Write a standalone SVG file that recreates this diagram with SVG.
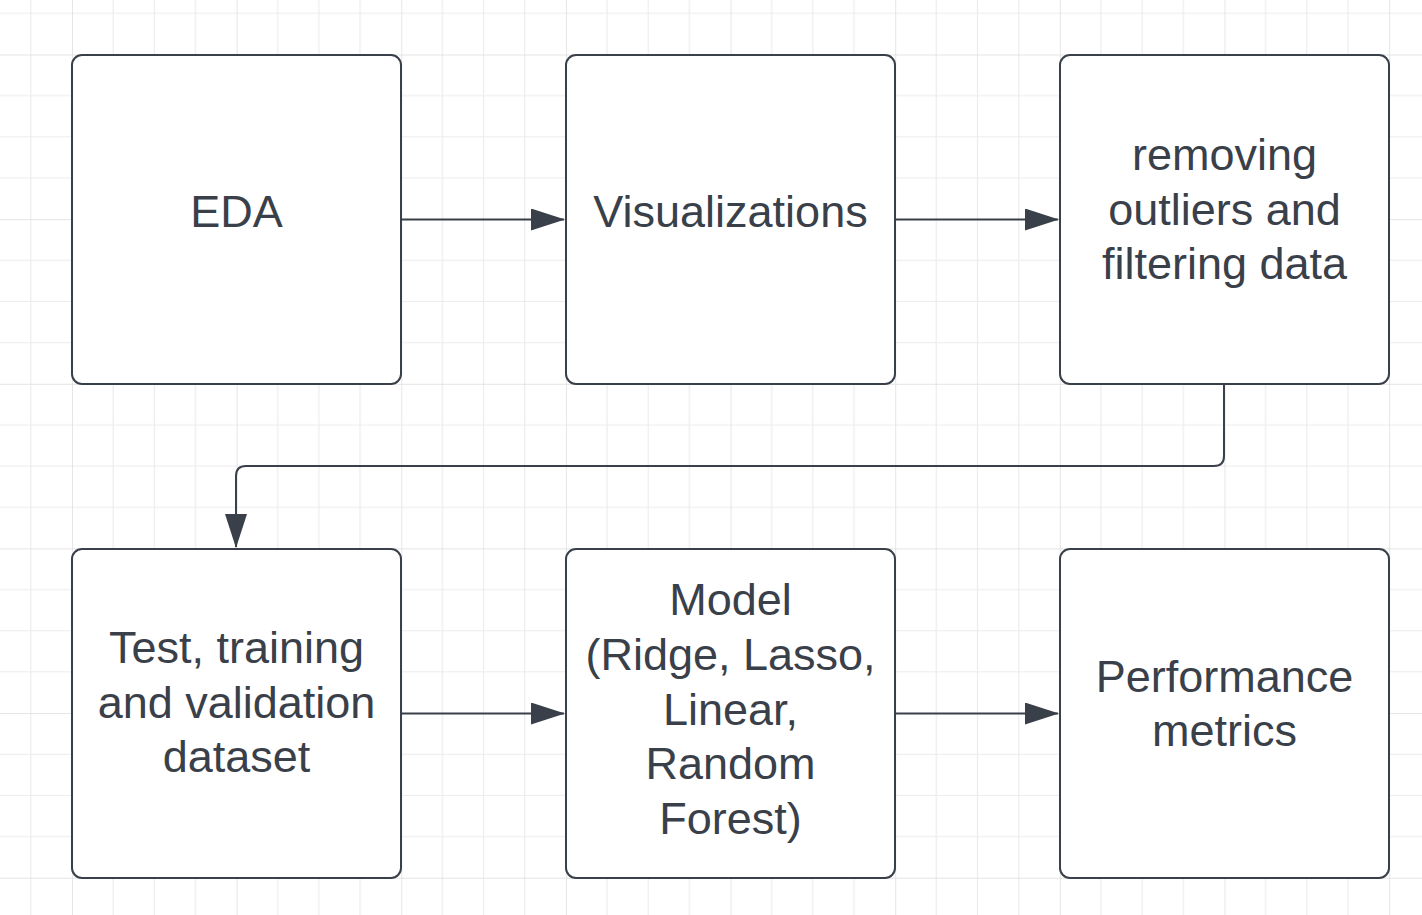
<svg xmlns="http://www.w3.org/2000/svg" width="1422" height="915" viewBox="0 0 1422 915">
<defs>
<pattern id="grid" x="72" y="54.5" width="164.64" height="164.64" patternUnits="userSpaceOnUse">
<path d="M41.16 0V164.64M82.32 0V164.64M123.48 0V164.64M0 41.16H164.64M0 82.32H164.64M0 123.48H164.64" stroke="#ececec" stroke-width="1.2" fill="none"/>
<path d="M0 0V164.64M0 0H164.64" stroke="#dcdcdc" stroke-width="1.4" fill="none"/>
</pattern>
<marker id="arr" viewBox="0 0 34 22" refX="33" refY="11" markerWidth="34" markerHeight="22" markerUnits="userSpaceOnUse" orient="auto">
<path d="M0 0L34 11L0 22Z" fill="#3a4049"/>
</marker>
<style>
.box{fill:#fff;stroke:#3a4049;stroke-width:2}
.t{font-family:"Liberation Sans",Arial,sans-serif;font-size:45px;fill:#3a4049;text-anchor:middle}
.c{fill:none;stroke:#3a4049;stroke-width:2}
</style>
</defs>
<rect width="1422" height="915" fill="#fff"/>
<rect width="1422" height="915" fill="url(#grid)"/>
<g id="connectors">
<path class="c" d="M401 219.5H564" marker-end="url(#arr)"/>
<path class="c" d="M895 219.5H1058" marker-end="url(#arr)"/>
<path class="c" d="M1224 384V456Q1224 466 1214 466H246Q236 466 236 476V547" marker-end="url(#arr)"/>
<path class="c" d="M401 713.5H564" marker-end="url(#arr)"/>
<path class="c" d="M895 713.5H1058" marker-end="url(#arr)"/>
</g>
<g id="eda">
<rect class="box" x="72" y="55" width="329" height="329" rx="10"/>
<text class="t" x="236.5" y="227">EDA</text>
</g>
<g id="visualizations">
<rect class="box" x="566" y="55" width="329" height="329" rx="10"/>
<text class="t" x="730.5" y="227">Visualizations</text>
</g>
<g id="removing">
<rect class="box" x="1060" y="55" width="329" height="329" rx="10"/>
<text class="t" x="1224.5" y="170">removing</text>
<text class="t" x="1224.5" y="224.5">outliers and</text>
<text class="t" x="1224.5" y="279">filtering data</text>
</g>
<g id="dataset">
<rect class="box" x="72" y="549" width="329" height="329" rx="10"/>
<text class="t" x="236.5" y="663">Test, training</text>
<text class="t" x="236.5" y="718">and validation</text>
<text class="t" x="236.5" y="772">dataset</text>
</g>
<g id="model">
<rect class="box" x="566" y="549" width="329" height="329" rx="10"/>
<text class="t" x="730.5" y="615">Model</text>
<text class="t" x="730.5" y="670">(Ridge, Lasso,</text>
<text class="t" x="730.5" y="725">Linear,</text>
<text class="t" x="730.5" y="779">Random</text>
<text class="t" x="730.5" y="834">Forest)</text>
</g>
<g id="metrics">
<rect class="box" x="1060" y="549" width="329" height="329" rx="10"/>
<text class="t" x="1224.5" y="692">Performance</text>
<text class="t" x="1224.5" y="746">metrics</text>
</g>
</svg>
